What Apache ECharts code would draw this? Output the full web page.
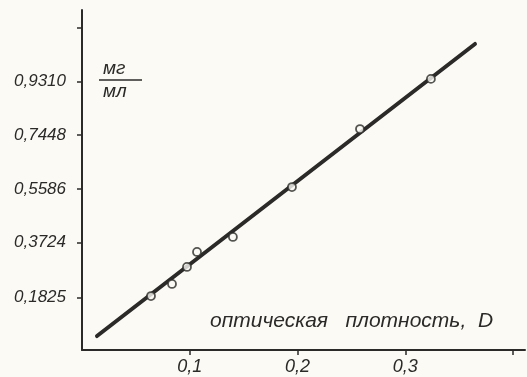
<!DOCTYPE html>
<html lang="ru">
<head>
<meta charset="UTF-8">
<title>Калибровочная прямая</title>
<style>
    * { margin: 0; padding: 0; }
    #chart { width: 527px; height: 377px; background: #fbfaf5; }
</style>
<script src="https://cdn.jsdelivr.net/npm/echarts@6/dist/echarts.min.js"></script>
</head>
<body>
<div id="chart"></div>
<script>
// оптическая плотность D (ось x) и концентрация мг/мл (ось y)
var xTicks = [0.1, 0.2, 0.3, 0.4];
var xLabels = [0.1, 0.2, 0.3];
var yTicks = [0.1825, 0.3724, 0.5586, 0.7448, 0.9310, 1.1172];
var yLabels = [0.1825, 0.3724, 0.5586, 0.7448, 0.9310];

// экспериментальные точки
var pointD = [0.064, 0.0835, 0.0974, 0.1067, 0.140, 0.1948, 0.2579, 0.3237];
var pointC = [0.187, 0.229, 0.288, 0.340, 0.392, 0.565, 0.766, 0.940];

// прямая
var lineD = [0.0139, 0.3646];
var lineC = [0.0485, 1.061];

var ink = '#2b2a28';
var font = 'Liberation Sans';

var chart = echarts.init(document.getElementById('chart'));

function zip(a, b) {
    return a.map(function (v, i) { return [v, b[i]]; });
}

var option = {
    backgroundColor: '#fbfaf5',
    animation: false,
    grid: { left: 82, right: 2, top: 10, bottom: 27, outerBoundsMode: 'none' },
    xAxis: {
        type: 'value',
        min: 0,
        max: 0.411,
        splitLine: { show: false },
        axisLine: { onZero: false, lineStyle: { color: ink, width: 2 } },
        axisTick: { customValues: xTicks, length: 5, lineStyle: { color: ink, width: 1.5 } },
        axisLabel: {
            customValues: xLabels,
            margin: 8,
            color: ink,
            fontFamily: font,
            fontStyle: 'italic',
            fontSize: 18,
            formatter: function (v) { return v.toFixed(1).replace('.', ','); }
        }
    },
    yAxis: {
        type: 'value',
        min: 0,
        max: 1.1788,
        splitLine: { show: false },
        axisLine: { onZero: false, lineStyle: { color: ink, width: 2 } },
        axisTick: { customValues: yTicks, length: 5, lineStyle: { color: ink, width: 1.5 } },
        axisLabel: {
            customValues: yLabels,
            margin: 16,
            color: ink,
            fontFamily: font,
            fontStyle: 'italic',
            fontSize: 17,
            formatter: function (v) { return v.toFixed(4).replace('.', ','); }
        }
    },
    graphic: [
        { type: 'text', left: 103, top: 59,
          style: { text: 'мг', fill: ink, font: 'italic 19px "Liberation Sans"' } },
        { type: 'line', shape: { x1: 99, y1: 80, x2: 142, y2: 80 },
          style: { stroke: ink, lineWidth: 1.5 } },
        { type: 'text', left: 103, top: 82,
          style: { text: 'мл', fill: ink, font: 'italic 19px "Liberation Sans"' } },
        { type: 'text', left: 210, top: 311,
          style: { text: 'оптическая   плотность,  D', fill: ink, font: 'italic 21px "Liberation Sans"' } }
    ],
    series: [
        {
            type: 'line',
            data: zip(lineD, lineC),
            symbol: 'none',
            lineStyle: { color: ink, width: 4, cap: 'round' },
            z: 2
        },
        {
            type: 'scatter',
            data: zip(pointD, pointC),
            symbol: 'circle',
            symbolSize: 8,
            itemStyle: { color: '#fbfaf5', borderColor: ink, borderWidth: 1.8 },
            z: 3
        }
    ]
};

chart.setOption(option);
</script>
</body>
</html>
